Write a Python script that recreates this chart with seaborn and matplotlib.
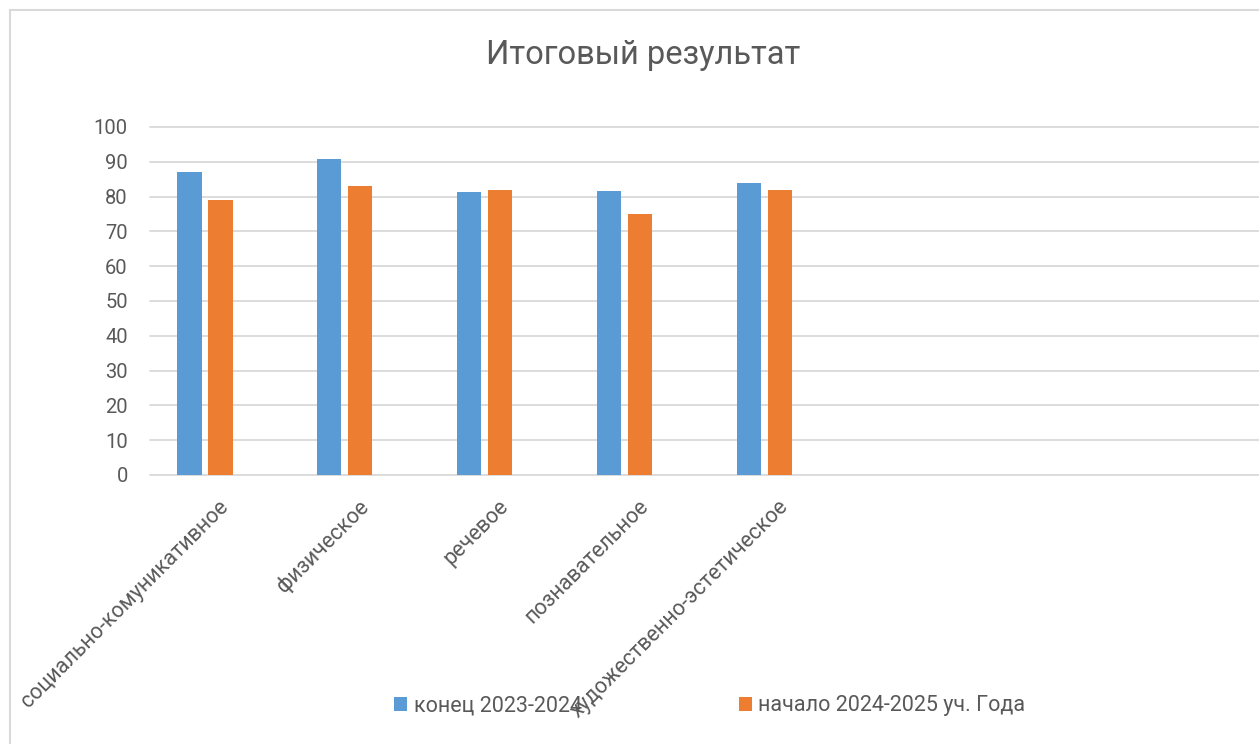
import pandas as pd
import matplotlib.pyplot as plt
import seaborn as sns
from matplotlib.transforms import ScaledTranslation
from matplotlib.patches import Rectangle

# data
categories = ['социально-комуникативное', 'физическое', 'речевое',
              'познавательное', 'художественно-эстетическое']
series_names = ['конец 2023-2024', 'начало 2024-2025 уч. Года']
end_2023_2024 = [87.0, 90.7, 81.2, 81.5, 83.8]
start_2024_2025 = [79.0, 83.0, 82.0, 75.0, 82.0]
y_ticks = list(range(0, 101, 10))

df = pd.DataFrame({
    'area': categories * 2,
    'period': [series_names[0]] * len(categories) + [series_names[1]] * len(categories),
    'value': end_2023_2024 + start_2024_2025,
})

sns.set_theme(style='white')
plt.rcParams['font.family'] = ['Roboto', 'DejaVu Sans']
grey = '#595959'

fig = plt.figure(figsize=(12.59, 7.44), dpi=100)
ax = fig.add_axes([150 / 1259, 1 - 475 / 744, 1 - 150 / 1259, 348 / 744])

sns.barplot(data=df, x='area', y='value', hue='period', order=categories,
            palette=['#5B9BD5', '#ED7D31'], saturation=1, width=0.443, gap=0.225,
            errorbar=None, linewidth=0, ax=ax)

ax.set_ylim(0, 100)
ax.set_xlim(-0.393, 7.53)
ax.set_yticks(y_ticks)
ax.set_xlabel('')
ax.set_ylabel('')
ax.yaxis.grid(True, color='#D9D9D9', linewidth=1.3)
for gl in ax.get_ygridlines():
    gl.set_clip_on(False)
ax.set_axisbelow(True)
sns.despine(ax=ax, left=True, bottom=True, top=True, right=True)

ax.tick_params(axis='y', length=0, pad=16, labelsize=14.5, labelcolor=grey)
ax.tick_params(axis='x', length=0, pad=0, labelsize=15.5, labelcolor=grey)
ax.set_xticks(range(len(categories)))
ax.set_xticklabels(categories, rotation=45, ha='right', va='top', rotation_mode='anchor')
shift = ScaledTranslation(0.13, -0.21, fig.dpi_scale_trans)
for lab in ax.get_xticklabels():
    lab.set_transform(lab.get_transform() + shift)

# legend at the bottom
handles, labels = ax.get_legend_handles_labels()
ax.legend_.remove()
fig.legend(handles, labels, loc='center', bbox_to_anchor=(710 / 1259, 1 - 706 / 744),
           ncol=2, frameon=False, fontsize=15.5, labelcolor=grey,
           handlelength=0.6, handleheight=0.6, handletextpad=0.3, columnspacing=7.3)

fig.text(643 / 1259, 1 - 55 / 744, 'Итоговый результат', ha='center', va='center',
         fontsize=23.5, color=grey)

# chart area border
fig.add_artist(Rectangle((10 / 1259, -0.1), 1.2, 1.1 - 10 / 744, transform=fig.transFigure,
                         fill=False, edgecolor='#D9D9D9', linewidth=1.5))

fig.savefig('out.png', dpi=100)
